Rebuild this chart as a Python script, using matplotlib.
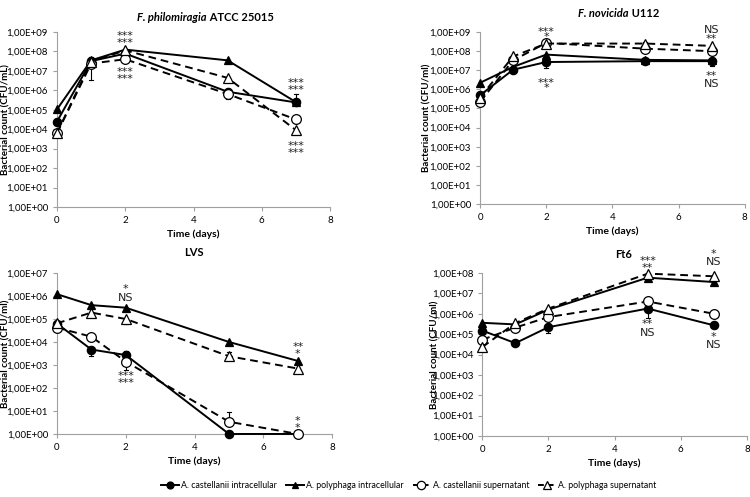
import numpy as np
import matplotlib
matplotlib.use("Agg")
import matplotlib.pyplot as plt
from matplotlib.ticker import FixedLocator, FuncFormatter
from matplotlib.lines import Line2D

plt.rcParams['font.family'] = ['Lato', 'DejaVu Sans']

# time points (days)
days = [0, 1, 2, 5, 7]

# F. philomiragia ATCC 25015
phil_cast_intra = [2.5e4, 3.2e7, 7.8e7, 8.5e5, 2.4e5]
phil_poly_intra = [1.05e5, 3.5e7, 1.25e8, 3.5e7, 2.5e5]
phil_cast_super = [6.2e3, 2.4e7, 4.0e7, 6.5e5, 3.2e4]
phil_poly_super = [6.5e3, 3.0e7, 1.15e8, 4.4e6, 9.0e3]

# F. novicida U112
novi_cast_intra = [4.9e5, 1.07e7, 2.7e7, 3.0e7, 3.0e7]
novi_poly_intra = [2.2e6, 1.5e7, 6.6e7, 3.5e7, 3.3e7]
novi_cast_super = [2.2e5, 3.3e7, 2.7e8, 1.35e8, 1.0e8]
novi_poly_super = [3.7e5, 5.3e7, 2.5e8, 2.5e8, 1.9e8]

# LVS
lvs_cast_intra = [6.3e4, 4.7e3, 2.7e3, 1.0, 1.0]
lvs_poly_intra = [1.2e6, 4.0e5, 3.1e5, 1.0e4, 1.5e3]
lvs_cast_super = [4.2e4, 1.7e4, 1.4e3, 3.4, 1.0]
lvs_poly_super = [6.5e4, 1.9e5, 1.0e5, 2.4e3, 7.0e2]

# Ft6
ft6_cast_intra = [1.5e5, 3.6e4, 2.2e5, 1.8e6, 2.7e5]
ft6_poly_intra = [3.6e5, 3.0e5, 1.6e6, 5.9e7, 3.6e7]
ft6_cast_super = [5.3e4, 2.1e5, 6.9e5, 4.0e6, 1.0e6]
ft6_poly_super = [2.3e4, 3.5e5, 1.8e6, 9.3e7, 6.9e7]

# visible error bars: (day, value, error end)
phil_err = [(1, 3.0e7, 5.5e7), (1, 2.4e7, 3.5e6), (7, 2.4e5, 6.5e5), (5, 6.5e5, 3.8e5), (7, 3.2e4, 5.0e4)]
novi_err = [(2, 2.7e7, 1.3e7), (5, 1.35e8, 3.2e8), (7, 1.0e8, 1.5e8), (7, 3.0e7, 1.6e7)]
lvs_err = [(1, 4.7e3, 2.5e3), (2, 2.7e3, 4.2e3), (2, 1.4e3, 6.0e2), (5, 3.4, 9.0), (2, 1.0e5, 6.0e4), (5, 2.4e3, 3.5e3)]
ft6_err = [(2, 2.2e5, 1.2e5), (5, 1.8e6, 6.0e5), (7, 3.6e7, 2.5e7)]

# significance labels: (day, two-line text, value at the middle of the pair)
phil_sig = [(2, '***\n***', 5.4e8), (2, '***\n***', 7.4e6),
            (7, '***\n***', 2.07e6), (7, '***\n***', 1.16e3)]
novi_sig = [(2, '***\n*', 1.0e9), (2, '***\n*', 2.18e6),
            (7, 'NS\n**', 8.1e8), (7, '**\nNS', 3.3e6)]
lvs_sig = [(2, '*\nNS', 1.39e6), (2, '***\n***', 2.9e2),
           (7, '**\n*', 5.7e3), (7, '*\n*', 3.2)]
ft6_sig = [(5, '***\n**', 3.5e8), (5, '**\nNS', 2.05e5),
           (7, '*\nNS', 5.8e8), (7, '*\nNS', 5.1e4)]

legend_labels = ['A. castellanii intracellular', 'A. polyphaga intracellular',
                 'A. castellanii supernatant', 'A. polyphaga supernatant']

styles = [dict(ls='-', marker='o', mfc='black', ms=6),
          dict(ls='-', marker='^', mfc='black', ms=6),
          dict(ls='--', marker='o', mfc='white', ms=7),
          dict(ls='--', marker='^', mfc='white', ms=7)]


def sci_label(v, pos):
    e = int(round(np.log10(v)))
    return '1,00E+%02d' % e


def draw_panel(ax, series, errs, sigs, top_exp, ylabel):
    for d, v, end in errs:
        ax.plot([d, d], [v, end], color='black', lw=0.8, zorder=1)
        ax.plot([d - 0.06, d + 0.06], [end, end], color='black', lw=0.8, zorder=1)
    for vals, st in zip(series, styles):
        ax.plot(days, vals, color='black', lw=1.4, mec='black', mew=0.9,
                dashes=(4, 2.5) if st['ls'] == '--' else (None, None),
                marker=st['marker'], mfc=st['mfc'], ms=st['ms'], zorder=3)
    for d, txt, y in sigs:
        if 'NS' in txt:
            spacing, off = 0.78, -0.5
        else:
            spacing, off = 0.62, -1.8
        if txt == '***\n*':
            spacing = 0.45
        ax.annotate(txt, (d, y), xytext=(0, off), textcoords='offset points',
                    ha='center', va='center', fontsize=8, linespacing=spacing,
                    multialignment='center', family='DejaVu Sans',
                    color='#222222', annotation_clip=False)
    ax.set_yscale('log')
    ax.set_ylim(1, 10 ** top_exp)
    ax.yaxis.set_major_locator(FixedLocator([10.0 ** k for k in range(top_exp + 1)]))
    ax.yaxis.set_minor_locator(FixedLocator([]))
    ax.yaxis.set_major_formatter(FuncFormatter(sci_label))
    ax.set_xlim(0, 8)
    ax.set_xticks([0, 2, 4, 6, 8])
    for s in ['top', 'right']:
        ax.spines[s].set_visible(False)
    for s in ['left', 'bottom']:
        ax.spines[s].set_color('#a0a0a0')
        ax.spines[s].set_linewidth(0.8)
    ax.tick_params(axis='both', labelsize=7, colors='#a0a0a0', labelcolor='black',
                   length=3, width=0.8)
    ax.set_xlabel('Time (days)', fontsize=7.5, fontweight='bold', labelpad=3)
    ax.set_ylabel(ylabel, fontsize=7, fontweight='bold')
    for child in ax.get_children():
        child.set_clip_on(False)


fig = plt.figure(figsize=(7.5, 4.97), dpi=100)

ax1 = fig.add_axes([0.076, 0.5835, 0.364, 0.352])
ax2 = fig.add_axes([0.64, 0.5895, 0.353, 0.346])
ax3 = fig.add_axes([0.076, 0.1268, 0.367, 0.3239])
ax4 = fig.add_axes([0.643, 0.1227, 0.353, 0.328])

draw_panel(ax1, [phil_cast_intra, phil_poly_intra, phil_cast_super, phil_poly_super],
           phil_err, phil_sig, 9, 'Bacterial count (CFU/mL)')
draw_panel(ax2, [novi_cast_intra, novi_poly_intra, novi_cast_super, novi_poly_super],
           novi_err, novi_sig, 9, 'Bacterial count (CFU/ml)')
draw_panel(ax3, [lvs_cast_intra, lvs_poly_intra, lvs_cast_super, lvs_poly_super],
           lvs_err, lvs_sig, 7, 'Bacterial count (CFU/ml)')
draw_panel(ax4, [ft6_cast_intra, ft6_poly_intra, ft6_cast_super, ft6_poly_super],
           ft6_err, ft6_sig, 8, 'Bacterial count (CFU/ml)')

ax1.yaxis.set_label_coords(-0.17, 0.5)
ax2.yaxis.set_label_coords(-0.183, 0.5)
ax3.yaxis.set_label_coords(-0.17, 0.5)
ax4.yaxis.set_label_coords(-0.16, 0.5)

# titles: italic species name + bold strain
t1 = fig.text(0.183, 0.965, 'F. philomiragia', fontsize=8, fontweight='bold',
              fontstyle='italic', va='center', ha='left')
ax1.annotate(' ATCC 25015', xy=(1, 0), xycoords=t1, va='bottom', ha='left',
             fontsize=8, fontweight='bold')
t2 = fig.text(0.771, 0.972, 'F. novicida', fontsize=8, fontweight='bold',
              fontstyle='italic', va='center', ha='left')
ax2.annotate(' U112', xy=(1, 0), xycoords=t2, va='bottom', ha='left',
             fontsize=8, fontweight='bold')
fig.text(0.259, 0.491, 'LVS', fontsize=8, fontweight='bold', ha='center', va='center')
fig.text(0.831, 0.487, 'Ft6', fontsize=8, fontweight='bold', ha='center', va='center')

handles = []
for lab, st in zip(legend_labels, styles):
    handles.append(Line2D([], [], color='black', lw=1.4, mec='black', mew=0.9,
                          dashes=(3, 2) if st['ls'] == '--' else (None, None),
                          marker=st['marker'], mfc=st['mfc'], ms=st['ms'] - 1, label=lab))
fig.legend(handles=handles, loc='center', bbox_to_anchor=(0.545, 0.024), ncol=4,
           frameon=False, fontsize=6.3, handlelength=2.0, handletextpad=0.3,
           columnspacing=1.0)

fig.savefig('out.png', dpi=100)
